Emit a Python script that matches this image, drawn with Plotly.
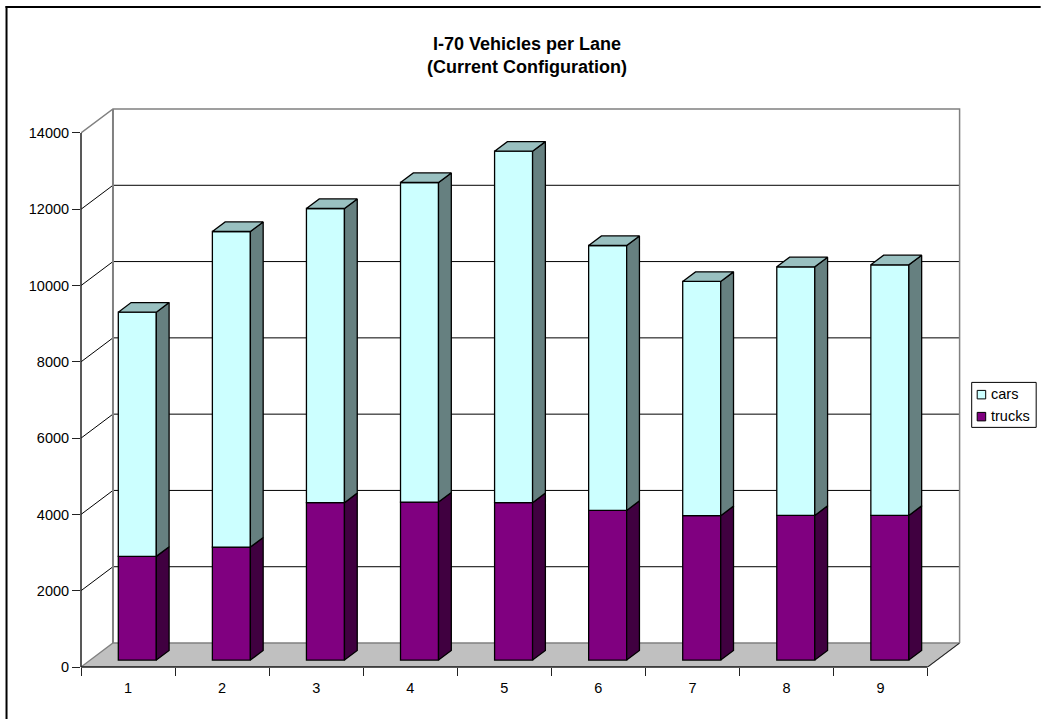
import plotly.graph_objects as go

WIDTH, HEIGHT = 1041, 719

# Stacked vehicle counts per lane
categories = [1, 2, 3, 4, 5, 6, 7, 8, 9]
trucks = [2718, 2961, 4125, 4141, 4125, 3923, 3784, 3792, 3792]
cars = [6402, 8274, 7713, 8378, 9215, 6945, 6141, 6518, 6570]
y_ticks = [0, 2000, 4000, 6000, 8000, 10000, 12000, 14000]

FONT = "Liberation Sans, Arial, sans-serif"
CARS_FRONT, CARS_SIDE, CARS_TOP = "#CCFFFF", "#668080", "#99C0C0"
TRUCKS_FRONT, TRUCKS_SIDE = "#800080", "#400040"
FLOOR = "#C0C0C0"
WALL = "#808080"
AXIS = "#222222"

# Oblique projection: how far the back of the box shifts, in axis units
DEPTH_X = 0.34
DEPTH_Y = 629
BAR_FRONT = 0.29   # where the bars start along the depth of the box
BAR_DEPTH = 0.40   # how deep the bars are, as a share of the box depth
BAR_WIDTH = 0.404
X0, X1 = 0.5, 9.5
Y_MAX = y_ticks[-1]

# The plot area also holds the receding walls above and to the right of the axes
ML, MR, MT, MB = 81, 79.7, 106.5, 52.3
PX_PER_CAT = 94.1
PX_PER_UNIT = 534.2 / Y_MAX
X_TOP = X0 + (WIDTH - ML - MR) / PX_PER_CAT
Y_TOP = (HEIGHT - MT - MB) / PX_PER_UNIT


def px(v):
    """Page pixel to paper fraction, horizontally."""
    return (v - ML) / (WIDTH - ML - MR)


def py(v):
    """Page pixel to paper fraction, vertically."""
    return 1 - (v - MT) / (HEIGHT - MT - MB)


def polygons(items):
    xs, ys = [], []
    for poly in items:
        for x, y in poly:
            xs.append(x)
            ys.append(y)
        xs.append(poly[0][0])
        ys.append(poly[0][1])
        xs.append(None)
        ys.append(None)
    return xs, ys


def add_face(fig, items, colour, outline="black", axes=("x2", "y2")):
    xs, ys = polygons(items)
    fig.add_trace(go.Scatter(
        x=xs, y=ys, mode="lines", fill="toself", fillcolor=colour,
        line=dict(color=outline, width=1.3), hoverinfo="skip",
        showlegend=False, xaxis=axes[0], yaxis=axes[1],
    ))


def add_line(fig, x, y, colour, width):
    fig.add_trace(go.Scatter(
        x=x, y=y, mode="lines", line=dict(color=colour, width=width),
        hoverinfo="skip", showlegend=False,
    ))


fig = go.Figure()

# Floor of the box
add_face(fig, [[(X0, 0), (X1, 0), (X1 + DEPTH_X, DEPTH_Y), (X0 + DEPTH_X, DEPTH_Y)]],
         FLOOR, outline=WALL, axes=("x", "y"))
add_line(fig, [X1, X1 + DEPTH_X], [0, DEPTH_Y], AXIS, 1)

# Gridlines run along the left wall and across the back wall
for tick in y_ticks[1:-1]:
    add_line(fig, [X0, X0 + DEPTH_X, X1 + DEPTH_X],
             [tick, tick + DEPTH_Y, tick + DEPTH_Y], "black", 1)

# Wall outline
add_line(fig, [X0, X0 + DEPTH_X, X1 + DEPTH_X, X1 + DEPTH_X],
         [Y_MAX, Y_MAX + DEPTH_Y, Y_MAX + DEPTH_Y, DEPTH_Y], WALL, 1.5)
add_line(fig, [X0 + DEPTH_X, X0 + DEPTH_X], [DEPTH_Y, Y_MAX + DEPTH_Y], WALL, 2)

# Bars: the front faces use the axis scale, lifted by the depth offset
lift_x = BAR_FRONT * DEPTH_X
lift_y = BAR_FRONT * DEPTH_Y
side_x = BAR_DEPTH * DEPTH_X
side_y = BAR_DEPTH * DEPTH_Y

bar_x = [c + lift_x for c in categories]
fig.add_trace(go.Bar(
    x=bar_x, y=trucks, base=[lift_y] * len(trucks), width=BAR_WIDTH, name="trucks",
    marker=dict(color=TRUCKS_FRONT, line=dict(color="black", width=1.3)),
    xaxis="x2", yaxis="y2", showlegend=False,
))
fig.add_trace(go.Bar(
    x=bar_x, y=cars, base=[t + lift_y for t in trucks], width=BAR_WIDTH, name="cars",
    marker=dict(color=CARS_FRONT, line=dict(color="black", width=1.3)),
    xaxis="x2", yaxis="y2", showlegend=False,
))


def side_face(xc, low, high):
    xr = xc + BAR_WIDTH / 2
    return [(xr, low), (xr + side_x, low + side_y), (xr + side_x, high + side_y), (xr, high)]


truck_sides, car_sides, car_tops = [], [], []
for xc, t, c in zip(bar_x, trucks, cars):
    truck_top = t + lift_y
    total_top = t + c + lift_y
    truck_sides.append(side_face(xc, lift_y, truck_top))
    car_sides.append(side_face(xc, truck_top, total_top))
    xl, xr = xc - BAR_WIDTH / 2, xc + BAR_WIDTH / 2
    car_tops.append([(xl, total_top), (xr, total_top),
                     (xr + side_x, total_top + side_y), (xl + side_x, total_top + side_y)])

add_face(fig, truck_sides, TRUCKS_SIDE)
add_face(fig, car_sides, CARS_SIDE)
add_face(fig, car_tops, CARS_TOP)

# Axis lines stop at the front of the box; paper fractions come from the axis ranges
x_axis_end = (X1 - X0) / (X_TOP - X0)
y_axis_end = Y_MAX / Y_TOP
shapes = [
    dict(type="line", xref="paper", yref="paper", x0=0, x1=x_axis_end, y0=0, y1=0,
         line=dict(color=AXIS, width=1.5)),
    dict(type="line", xref="paper", yref="paper", x0=0, x1=0, y0=0, y1=y_axis_end,
         line=dict(color=AXIS, width=1.5)),
    # Frame along the top and left
    dict(type="line", xref="paper", yref="paper", x0=px(6.5), x1=px(6.5), y0=py(5.5), y1=py(HEIGHT),
         line=dict(color="black", width=2)),
    dict(type="line", xref="paper", yref="paper", x0=px(5.5), x1=px(WIDTH), y0=py(6.5), y1=py(6.5),
         line=dict(color="black", width=2)),
    # Legend box and swatches
    dict(type="rect", xref="paper", yref="paper", x0=px(972), x1=px(1036.5), y0=py(382), y1=py(427),
         line=dict(color="black", width=1), fillcolor="white"),
    dict(type="rect", xref="paper", yref="paper", x0=px(977.5), x1=px(986), y0=py(390), y1=py(398.5),
         line=dict(color="black", width=1), fillcolor=CARS_FRONT),
    dict(type="rect", xref="paper", yref="paper", x0=px(977.5), x1=px(986), y0=py(412), y1=py(420.5),
         line=dict(color="black", width=1), fillcolor=TRUCKS_FRONT),
]

legend_labels = [dict(
    text=label, x=px(990), y=py(ypos), xref="paper", yref="paper",
    xanchor="left", yanchor="middle", showarrow=False, xshift=-1,
    font=dict(family=FONT, size=14.5, color="black"),
) for label, ypos in (("cars", 394), ("trucks", 416))]

axis_font = dict(family=FONT, size=14.5, color="black")

fig.update_layout(
    width=WIDTH, height=HEIGHT,
    margin=dict(l=ML, r=MR, t=MT, b=MB, pad=0),
    paper_bgcolor="white", plot_bgcolor="white",
    barmode="overlay", showlegend=False,
    title=dict(
        text="<b>I-70 Vehicles per Lane<br>(Current Configuration)</b>",
        x=527 / WIDTH, xanchor="center", y=1 - 50 / HEIGHT, yanchor="middle",
        font=dict(family=FONT, size=18, color="black"),
    ),
    xaxis=dict(
        range=[X0, X_TOP], tickmode="array", tickvals=categories,
        ticktext=[str(c) for c in categories], ticks="", showgrid=False, zeroline=False,
        showline=False, tickfont=axis_font, ticklabelstandoff=10,
        minor=dict(tickmode="array", tickvals=[c - 0.5 for c in categories] + [categories[-1] + 0.5],
                   ticks="outside", ticklen=8, tickwidth=1, tickcolor=AXIS, showgrid=False),
    ),
    yaxis=dict(
        range=[0, Y_TOP], tickmode="array", tickvals=y_ticks, tickformat="d",
        ticks="outside", ticklen=8, tickwidth=1, tickcolor=AXIS,
        showgrid=False, zeroline=False, showline=False, tickfont=axis_font,
    ),
    xaxis2=dict(range=[X0, X_TOP], overlaying="x", visible=False),
    yaxis2=dict(range=[0, Y_TOP], overlaying="y", visible=False),
    shapes=shapes,
    annotations=legend_labels,
)

fig.write_html("out.html")
